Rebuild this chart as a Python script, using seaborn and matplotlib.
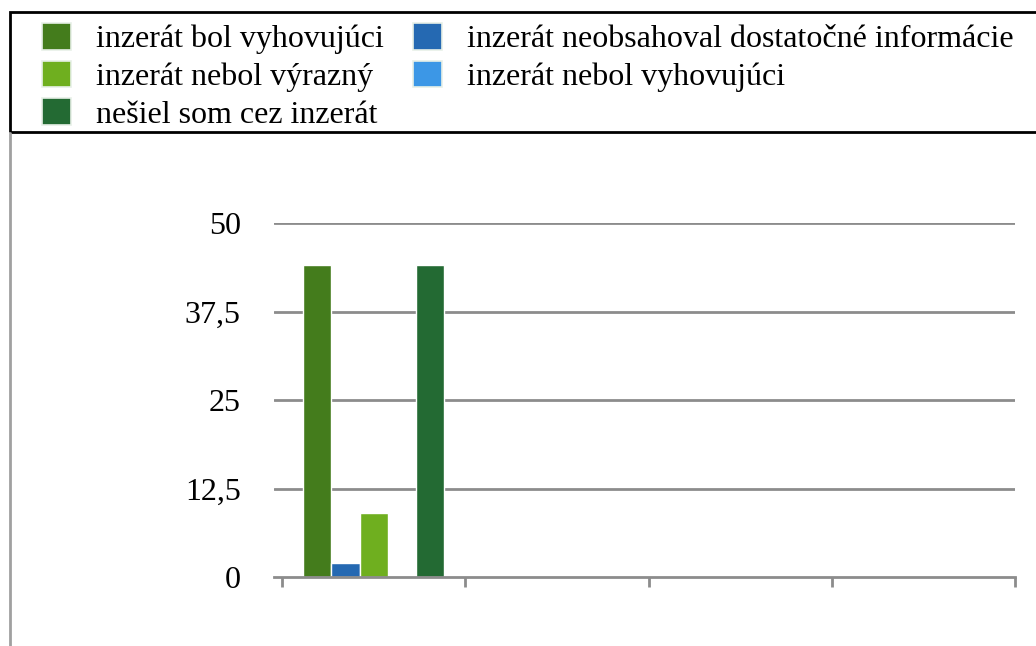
import matplotlib
matplotlib.use('Agg')
import matplotlib.pyplot as plt
import seaborn as sns
import pandas as pd
from matplotlib.patches import Rectangle
from matplotlib.lines import Line2D

# Data
categories = ["1", "2", "3", "4"]
series = [
    "inzerát bol vyhovujúci",
    "inzerát neobsahoval dostatočné informácie",
    "inzerát nebol výrazný",
    "inzerát nebol vyhovujúci",
    "nešiel som cez inzerát",
]
values = [44, 2, 9, 0, 44]
colors = ["#447c1c", "#2569b2", "#6faf1f", "#3c97e6", "#236a33"]
y_ticks = [0, 12.5, 25, 37.5, 50]
y_labels = ["0", "12,5", "25", "37,5", "50"]

df = pd.DataFrame({"category": [categories[0]] * len(series),
                   "series": series, "value": values})

sns.set_theme(style="white")
plt.rcParams['font.family'] = ['Liberation Serif', 'DejaVu Serif']
plt.rcParams['text.color'] = 'black'

W, H = 1036, 646
fig = plt.figure(figsize=(W / 100, H / 100), dpi=100)
ax = fig.add_axes([274 / W, 1 - 577 / H, (1015 - 274) / W, (577 - 223) / H])

grid_c = "#8c8c8c"
for t in y_ticks[1:]:
    ax.axhline(t, color=grid_c, lw=2, zorder=0)

sns.barplot(data=df, x="category", y="value", hue="series", order=categories,
            hue_order=series, palette=colors, saturation=1, width=0.77,
            dodge=True, edgecolor="white", linewidth=1, legend=False,
            ax=ax, zorder=2)

ax.set_xlim(-0.5 - 8 / 183, 3.5)
ax.set_ylim(0, 50)
ax.set_xticks([-0.5, 0.5, 1.5, 2.5, 3.5])
ax.set_xticklabels([])
ax.set_yticks(y_ticks)
ax.set_yticklabels(y_labels, fontsize=23, color="black")
ax.tick_params(axis="y", left=False, length=0, pad=24)
ax.tick_params(axis="x", bottom=True, direction="out", length=7, width=2,
               color=grid_c)
ax.set_xlabel("")
ax.set_ylabel("")
for s in ["top", "right", "left"]:
    ax.spines[s].set_visible(False)
ax.spines["bottom"].set_color(grid_c)
ax.spines["bottom"].set_linewidth(2)

# legend
handles = [Rectangle((0, 0), 1, 1, facecolor=c, edgecolor="#e8f0e8", lw=1.2)
           for c in colors]
order = [0, 2, 4, 1, 3]
fig.legend([handles[i] for i in order], [series[i] for i in order],
           loc="upper left", bbox_to_anchor=(42 / W, 1 - 23 / H),
           ncol=2, frameon=False, fontsize=23, borderpad=0, borderaxespad=0,
           handlelength=0.9, handleheight=0.9, handletextpad=0.8,
           columnspacing=0.9, labelspacing=0.2, labelcolor="black")

# outer frame pieces
fig.add_artist(Rectangle((10 / W, 1 - 132 / H), 1040 / W, 120 / H,
                         transform=fig.transFigure, fill=False,
                         edgecolor="black", lw=2))
fig.add_artist(Line2D([10 / W, 10 / W], [0, 1 - 133 / H],
                      transform=fig.transFigure, color="#a0a0a0", lw=2))

fig.savefig("out.png", dpi=100)
